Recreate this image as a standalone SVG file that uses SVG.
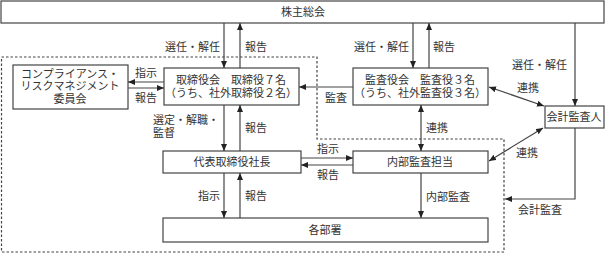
<svg xmlns="http://www.w3.org/2000/svg" width="606" height="254" viewBox="0 0 606 254">
<style>
.box{fill:#fff;stroke:#444;stroke-width:1.2}
.ln{fill:none;stroke:#444;stroke-width:1.2}
.dot{fill:none;stroke:#444;stroke-width:1.2;stroke-dasharray:2.5 2}
text{font-family:"Noto Sans CJK JP","Noto Sans",sans-serif;font-size:11px;fill:#333}
.c{text-anchor:middle}
.e{text-anchor:end}
</style>
<defs>
<marker id="ah" markerUnits="userSpaceOnUse" markerWidth="7" markerHeight="6" refX="7" refY="3" orient="auto-start-reverse">
<path d="M0,0 L7,3 L0,6 z" fill="#222"/>
</marker>
</defs>
<path class="dot" d="M1.5,57 H317 V139 H504 V252 H1.5 Z"/>
<g id="n-shareholders"><rect class="box" x="1" y="1" width="603" height="22"/><text class="c" x="303" y="16">株主総会</text></g>
<g id="n-compliance"><rect class="box" x="13" y="65" width="115" height="44"/><text class="c" x="70" y="77.5">コンプライアンス・<tspan x="70" dy="12.5">リスクマネジメント</tspan><tspan x="70" dy="12.5">委員会</tspan></text></g>
<g id="n-board"><rect class="box" x="164" y="68" width="135" height="37"/><text class="c" x="231" y="84">取締役会　取締役７名<tspan x="231" dy="13">（うち、社外取締役２名）</tspan></text></g>
<g id="n-auditors"><rect class="box" x="353" y="68" width="135" height="37"/><text class="c" x="420" y="84">監査役会　監査役３名<tspan x="420" dy="13">（うち、社外監査役３名）</tspan></text></g>
<g id="n-accountant"><rect class="box" x="545" y="106" width="59" height="22"/><text class="c" x="574" y="121">会計監査人</text></g>
<g id="n-president"><rect class="box" x="163" y="151" width="138" height="22"/><text class="c" x="232" y="166">代表取締役社長</text></g>
<g id="n-internal"><rect class="box" x="353" y="151" width="135" height="22"/><text class="c" x="420" y="166">内部監査担当</text></g>
<g id="n-depts"><rect class="box" x="163" y="218" width="325" height="24"/><text class="c" x="325" y="234">各部署</text></g>
<g id="connectors">
<line class="ln" x1="224" y1="23" x2="224" y2="68" marker-end="url(#ah)"/>
<line class="ln" x1="240" y1="68" x2="240" y2="23" marker-end="url(#ah)"/>
<line class="ln" x1="413" y1="23" x2="413" y2="68" marker-end="url(#ah)"/>
<line class="ln" x1="429" y1="68" x2="429" y2="23" marker-end="url(#ah)"/>
<line class="ln" x1="575" y1="23" x2="575" y2="106" marker-end="url(#ah)"/>
<line class="ln" x1="164" y1="82" x2="128" y2="82" marker-end="url(#ah)"/>
<line class="ln" x1="128" y1="88" x2="164" y2="88" marker-end="url(#ah)"/>
<line class="ln" x1="353" y1="87" x2="299" y2="87" marker-end="url(#ah)"/>
<line class="ln" x1="489" y1="87" x2="544" y2="106" marker-start="url(#ah)" marker-end="url(#ah)"/>
<line class="ln" x1="543" y1="128" x2="489" y2="161" marker-start="url(#ah)" marker-end="url(#ah)"/>
<line class="ln" x1="421" y1="105" x2="421" y2="151" marker-start="url(#ah)" marker-end="url(#ah)"/>
<line class="ln" x1="224" y1="105" x2="224" y2="151" marker-end="url(#ah)"/>
<line class="ln" x1="240" y1="151" x2="240" y2="105" marker-end="url(#ah)"/>
<line class="ln" x1="301" y1="158" x2="353" y2="158" marker-end="url(#ah)"/>
<line class="ln" x1="353" y1="165" x2="301" y2="165" marker-end="url(#ah)"/>
<line class="ln" x1="224" y1="173" x2="224" y2="218" marker-end="url(#ah)"/>
<line class="ln" x1="240" y1="218" x2="240" y2="173" marker-end="url(#ah)"/>
<line class="ln" x1="421" y1="173" x2="421" y2="218" marker-end="url(#ah)"/>
<path class="ln" d="M575,128 V199 H505" marker-end="url(#ah)"/>
<text class="e" x="220" y="51">選任・解任</text>
<text x="245" y="51">報告</text>
<text class="e" x="409" y="51">選任・解任</text>
<text x="433" y="51">報告</text>
<text x="512" y="69">選任・解任</text>
<text x="517" y="92">連携</text>
<text x="135" y="77">指示</text>
<text x="135" y="102">報告</text>
<text x="325" y="102">監査</text>
<text x="153" y="124">選定・解職・<tspan x="153" dy="13">監督</tspan></text>
<text x="245" y="132">報告</text>
<text x="426" y="132">連携</text>
<text x="317" y="153">指示</text>
<text x="317" y="179">報告</text>
<text x="516" y="157">連携</text>
<text class="e" x="220" y="200">指示</text>
<text x="245" y="200">報告</text>
<text x="426" y="201">内部監査</text>
<text x="518" y="214">会計監査</text>
</g>
</svg>
